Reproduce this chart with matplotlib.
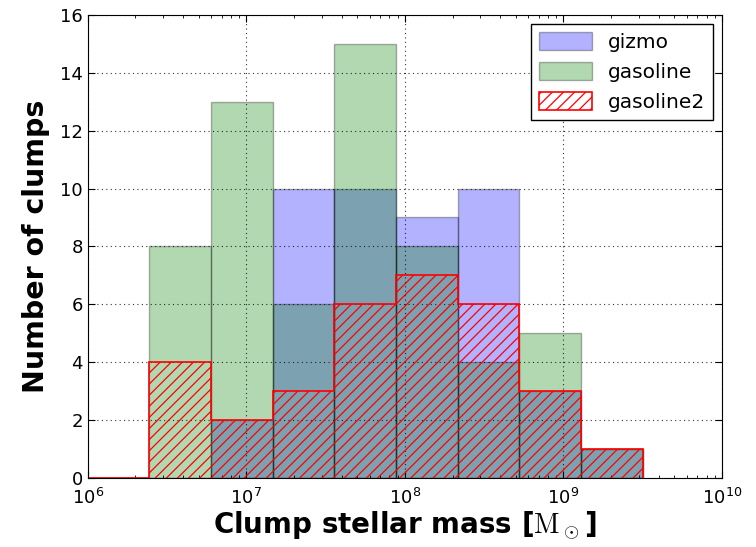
import matplotlib.pyplot as plt
import numpy as np

plt.rcParams['mathtext.fontset'] = 'cm'
plt.rcParams['hatch.linewidth'] = 0.9

# log-spaced mass bins, 10^6 to 10^9.5
edges = np.logspace(6, 9.5, 10)
centers = np.sqrt(edges[:-1] * edges[1:])

n_gizmo = [0, 0, 2, 10, 10, 9, 10, 3, 1]
n_gasoline = [0, 8, 13, 6, 15, 8, 4, 5, 1]
n_gasoline2 = [0, 4, 2, 3, 6, 7, 6, 3, 1]

fig = plt.figure(figsize=(7.56, 5.47), dpi=100)
ax = fig.add_axes([0.116, 0.126, 0.839, 0.847])

ax.hist(centers, bins=edges, weights=n_gizmo, color='blue', alpha=0.3,
        edgecolor='k', linewidth=1, label='gizmo')
ax.hist(centers, bins=edges, weights=n_gasoline, color='green', alpha=0.3,
        edgecolor='k', linewidth=1, label='gasoline')
ax.hist(centers, bins=edges, weights=n_gasoline2, histtype='step',
        color='red', hatch='///', linewidth=1.2, label='gasoline2')

ax.set_xscale('log')
ax.set_xlim(1e6, 1e10)
ax.set_ylim(0, 16)
ax.set_yticks(np.arange(0, 17, 2))
ax.grid(True, color='k', linestyle=(0, (1, 3)), linewidth=0.8, alpha=0.8)
ax.tick_params(direction='in', which='both', top=True, right=True, labelsize=13)
ax.tick_params(axis='x', pad=7)
ax.tick_params(which='major', length=5)
ax.tick_params(which='minor', length=2.5)

ax.set_xlabel(r'Clump stellar mass [$\mathrm{M}_\odot$]', fontsize=20,
              fontweight='bold', labelpad=1)
ax.set_ylabel('Number of clumps', fontsize=20.5, fontweight='bold', labelpad=7)

leg = ax.legend(loc='upper right', fontsize=14.5, fancybox=False,
                framealpha=1, edgecolor='k', handlelength=2.6,
                handleheight=1.0, borderaxespad=0.45)
leg.get_frame().set_linewidth(1)

fig.savefig('out.png', dpi=100, facecolor='white')
